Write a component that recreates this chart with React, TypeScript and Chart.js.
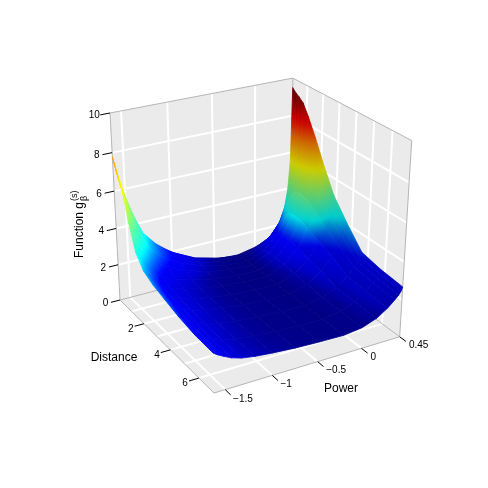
import React, { useEffect, useRef } from "react";
import { Chart, registerables } from "chart.js";

Chart.register(...registerables);

// ---- data ----
const distanceNodes = [0.05, 0.154, 0.293, 0.467, 0.745, 1.093, 1.579, 2.135, 2.83, 3.664, 4.637, 5.749, 7.0];
const powerNodes = [-1.617, -1.576, -1.514, -1.431, -1.328, -1.183, -0.997, -0.749, -0.48, -0.211, -0.005, 0.161, 0.285, 0.367, 0.409, 0.435, 0.45];
const gValues = [
  [7.8, 6.9, 5.8, 4.6, 3.45, 2.65, 1.93, 1.3, 0.93, 0.86, 1.05, 1.3, 1.85, 2.86, 4.01, 5.61, 9.5],
  [7.55, 6.68, 5.61, 4.43, 3.38, 2.59, 1.99, 1.39, 1.05, 0.87, 1.12, 1.5, 2.18, 3.22, 4.34, 5.84, 9.4],
  [7.2, 6.37, 5.36, 4.25, 3.24, 2.5, 1.93, 1.36, 1.04, 0.88, 1.19, 1.7, 2.5, 3.57, 4.65, 6.07, 9.3],
  [6.85, 6.07, 5.11, 4.06, 3.12, 2.42, 1.88, 1.34, 1.04, 0.9, 1.27, 1.89, 2.81, 3.91, 4.97, 6.3, 9.2],
  [6.3, 5.59, 4.72, 3.77, 2.91, 2.27, 1.78, 1.3, 1.02, 0.9, 1.33, 2.06, 3.09, 4.21, 5.21, 6.44, 9.0],
  [5.0, 4.46, 3.8, 3.08, 2.43, 1.94, 1.57, 1.2, 0.99, 0.9, 1.38, 2.17, 3.24, 4.33, 5.25, 6.33, 8.45],
  [3.65, 3.29, 2.85, 2.36, 1.92, 1.6, 1.35, 1.1, 0.96, 0.92, 1.38, 2.18, 3.23, 4.22, 5.02, 5.91, 7.55],
  [3.0, 2.73, 2.39, 2.02, 1.69, 1.44, 1.25, 1.06, 0.95, 0.92, 1.35, 2.1, 3.05, 3.9, 4.54, 5.23, 6.4],
  [2.7, 2.47, 2.18, 1.86, 1.58, 1.37, 1.21, 1.04, 0.95, 0.93, 1.29, 1.92, 2.71, 3.38, 3.86, 4.35, 5.1],
  [2.5, 2.29, 2.04, 1.77, 1.52, 1.33, 1.19, 1.05, 0.97, 0.94, 1.24, 1.77, 2.41, 2.94, 3.3, 3.64, 4.1],
  [2.27, 2.1, 1.88, 1.65, 1.44, 1.29, 1.17, 1.05, 0.98, 0.96, 1.14, 1.47, 1.93, 2.33, 2.56, 2.78, 3.05],
  [2.1, 1.95, 1.77, 1.57, 1.39, 1.26, 1.15, 1.05, 0.99, 0.97, 1.13, 1.43, 1.84, 2.2, 2.42, 2.62, 2.82],
  [2.05, 1.92, 1.75, 1.55, 1.39, 1.27, 1.18, 1.09, 1.03, 1.0, 1.12, 1.4, 1.78, 2.12, 2.32, 2.5, 2.69],
];
const distanceTicks = [2, 4, 6];
const distanceGrid = [1, 2, 3, 4, 5, 6];
const powerTicks = [-1.5, -1, -0.5, 0, 0.45];
const powerLabels = ["\u22121.5", "\u22121", "\u22120.5", "0", "0.45"];
const powerGrid = [-1.5, -1, -0.5, 0];
const zTicks = [0, 2, 4, 6, 8, 10];
const zGrid = [2, 4, 6, 8];
const colorZ = [0.9, 1.05, 1.15, 1.25, 1.4, 1.7, 2.05, 2.4, 3.1, 4.3, 5.5, 6.8, 7.8, 8.8, 9.2];
const colorT = [0, 0.012, 0.028, 0.052, 0.08, 0.105, 0.12, 0.2, 0.375, 0.5, 0.625, 0.75, 0.875, 0.97, 1];
const colourShift = [0, 0.03, 0.08, 0.14, 0.2, 0.3, 0.45, 0.7, 1.2, 1.2, 0.8, 0.8, 1.0];

const D0 = 0.05, D1 = 7.0, P0 = -1.617, P1 = 0.45, Z1 = 10;

// camera (homogeneous projection of the unit box)
function project(d: number, p: number, z: number) {
  const u = (d - D0) / (D1 - D0), v = (p - P0) / (P1 - P0), w = z / Z1;
  const W = -0.1224 * u + 0.0654 * v - 0.0707 * w + 1;
  return {
    x: (67.81 * u + 189.07 * v - 17.75 * w + 120) / W,
    y: (44.92 * u - 27.34 * v - 194.99 * w + 300) / W,
  };
}

function jet(t: number, shade: number) {
  const c = (x: number) => Math.round(255 * shade * Math.max(0, Math.min(1, x)));
  const r = 1.5 - Math.abs(4 * t - 3), g = 1.5 - Math.abs(4 * t - 2), b = 1.5 - Math.abs(4 * t - 1);
  return `rgb(${c(r)},${c(g)},${c(b)})`;
}
function colorFor(z: number, shade: number) {
  if (z <= colorZ[0]) return jet(0, shade);
  for (let i = 1; i < colorZ.length; i++) {
    if (z <= colorZ[i]) {
      const f = (z - colorZ[i - 1]) / (colorZ[i] - colorZ[i - 1]);
      return jet(colorT[i - 1] + f * (colorT[i] - colorT[i - 1]), shade);
    }
  }
  return jet(1, shade);
}
// value used for the colour scale
function colourValue(a: number, b: number) {
  const z = gValues[a][b];
  const v = (powerNodes[b] - P0) / (P1 - P0);
  if (v < 0.5) return z - 0.22 * Math.max(0, z - 2.4);
  const top = gValues[a][powerNodes.length - 1];
  const s = Math.max(0, Math.min(1, (z - 1) / (top - 1)));
  return z - colourShift[a] * s;
}
// the steep right-hand side is lit less
function shadeFor(b: number) {
  const v = (powerNodes[b] - P0) / (P1 - P0);
  return v <= 0.8 ? 1 : 1 - 0.2 * Math.min(1, (v - 0.8) / 0.16);
}

function quadPaint(ctx: CanvasRenderingContext2D, pts: { x: number; y: number }[], zs: number[], shade: number) {
  const cx = pts.reduce((s, q) => s + q.x, 0) / 4, cy = pts.reduce((s, q) => s + q.y, 0) / 4;
  const zc = zs.reduce((s, q) => s + q, 0) / 4;
  let sxx = 0, sxy = 0, syy = 0, sxz = 0, syz = 0;
  pts.forEach((q, i) => {
    const dx = q.x - cx, dy = q.y - cy, dz = zs[i] - zc;
    sxx += dx * dx; sxy += dx * dy; syy += dy * dy; sxz += dx * dz; syz += dy * dz;
  });
  const det = sxx * syy - sxy * sxy;
  const zmin = Math.min(...zs), zmax = Math.max(...zs);
  if (Math.abs(det) < 1e-6 || zmax - zmin < 1e-6) return colorFor(zc, shade);
  const a = (sxz * syy - syz * sxy) / det, b = (syz * sxx - sxz * sxy) / det;
  const n = a * a + b * b;
  if (n < 1e-9) return colorFor(zc, shade);
  const g = ctx.createLinearGradient(
    cx + ((zmin - zc) * a) / n, cy + ((zmin - zc) * b) / n,
    cx + ((zmax - zc) * a) / n, cy + ((zmax - zc) * b) / n,
  );
  for (let i = 0; i <= 10; i++) g.addColorStop(i / 10, colorFor(zmin + ((zmax - zmin) * i) / 10, shade));
  return g;
}

const FONT = '"Liberation Sans", Arial, sans-serif';

export default function App() {
  const ref = useRef<HTMLCanvasElement | null>(null);
  useEffect(() => {
    document.body.style.margin = "0";
    const canvas = ref.current!;
    const ctx = canvas.getContext("2d")!;
    const shape = (pts: { x: number; y: number }[], fill: any, border: any = "transparent", bw = 0) => ({
      data: pts, showLine: true, fill: "shape", backgroundColor: fill, borderColor: border, borderWidth: bw,
      pointRadius: 0, pointHoverRadius: 0, tension: 0, clip: false,
    });
    const line = (pts: { x: number; y: number }[], color: string, bw: number) => ({
      data: pts, showLine: true, fill: false, borderColor: color, borderWidth: bw, backgroundColor: color,
      pointRadius: 0, pointHoverRadius: 0, tension: 0, clip: false,
    });

    const ds: any[] = [];
    const WALL = "#EBEBEB", EDGE = "#B5B5B5";
    const wallPoly = (a: number[][]) => a.map(([d, p, z]) => project(d, p, z));
    ds.push(shape(wallPoly([[D0, P0, 0], [D0, P1, 0], [D0, P1, Z1], [D0, P0, Z1], [D0, P0, 0]]), WALL));
    ds.push(shape(wallPoly([[D0, P1, 0], [D1, P1, 0], [D1, P1, Z1], [D0, P1, Z1], [D0, P1, 0]]), WALL));
    ds.push(shape(wallPoly([[D0, P0, 0], [D1, P0, 0], [D1, P1, 0], [D0, P1, 0], [D0, P0, 0]]), WALL));
    const GRID = "#FFFFFF", GW = 2;
    powerGrid.forEach((p) => {
      ds.push(line(wallPoly([[D0, p, 0], [D0, p, Z1]]), GRID, GW));
      ds.push(line(wallPoly([[D0, p, 0], [D1, p, 0]]), GRID, GW));
    });
    distanceGrid.forEach((d) => {
      ds.push(line(wallPoly([[d, P1, 0], [d, P1, Z1]]), GRID, GW));
      ds.push(line(wallPoly([[d, P0, 0], [d, P1, 0]]), GRID, GW));
    });
    zGrid.forEach((z) => {
      ds.push(line(wallPoly([[D0, P0, z], [D0, P1, z]]), GRID, GW));
      ds.push(line(wallPoly([[D0, P1, z], [D1, P1, z]]), GRID, GW));
    });
    ds.push(line(wallPoly([[D0, P0, 0], [D0, P0, Z1], [D0, P1, Z1], [D1, P1, Z1], [D1, P1, 0]]), EDGE, 1));
    ds.push(line(wallPoly([[D0, P0, 0], [D1, P0, 0], [D1, P1, 0], [D0, P1, 0], [D0, P0, 0]]), EDGE, 1));
    ds.push(line(wallPoly([[D0, P1, 0], [D0, P1, Z1]]), EDGE, 1));

    // surface, far to near
    for (let i = 0; i < distanceNodes.length - 1; i++) {
      for (let j = powerNodes.length - 2; j >= 0; j--) {
        const corners: [number, number][] = [[i, j], [i + 1, j], [i + 1, j + 1], [i, j + 1]];
        const pts = corners.map(([a, b]) => project(distanceNodes[a], powerNodes[b], gValues[a][b]));
        const cv = corners.map(([a, b]) => colourValue(a, b));
        const paint = quadPaint(ctx, pts, cv, (shadeFor(j) + shadeFor(j + 1)) / 2);
        ds.push(shape([...pts, pts[0]], paint, paint, 0.8));
      }
    }
    const DV = 0.05 * (P1 - P0), DU = 0.05 * (D1 - D0);
    zTicks.forEach((z) => ds.push(line(wallPoly([[D0, P0, z], [D0, P0 - DV, z]]), "#000", 1)));
    distanceTicks.forEach((d) => ds.push(line(wallPoly([[d, P0, 0], [d, P0 - DV, 0]]), "#000", 1)));
    powerTicks.forEach((p) => ds.push(line(wallPoly([[D1, p, 0], [D1 + DU, p, 0]]), "#000", 1)));

    const labels = {
      id: "labels3d",
      afterDraw(chart: any) {
        const c = chart.ctx;
        const sx = chart.scales.x, sy = chart.scales.y;
        const px = (q: { x: number; y: number }) => [sx.getPixelForValue(q.x), sy.getPixelForValue(q.y)];
        c.save();
        c.fillStyle = "#000";
        c.textBaseline = "middle";
        c.font = `10px ${FONT}`;
        c.textAlign = "center";
        zTicks.forEach((z) => {
          const [x, y] = px(project(D0, P0 - 0.085 * (P1 - P0), z));
          c.fillText(String(z), x + 1, y - 0.5);
        });
        distanceTicks.forEach((d) => {
          const [x, y] = px(project(d, P0 - 0.07 * (P1 - P0), 0));
          c.fillText(String(d), x, y + 1.5);
        });
        c.textAlign = "left";
        powerTicks.forEach((p, i) => {
          const [x, y] = px(project(D1 + 0.09 * (D1 - D0), p, 0));
          c.fillText(powerLabels[i], x - 2, y);
        });
        c.font = `12px ${FONT}`;
        c.textAlign = "center";
        c.fillText("Distance", 114, 358);
        c.fillText("Power", 341, 389);
        c.translate(79, 258);
        c.rotate(-Math.PI / 2);
        c.textAlign = "left";
        c.textBaseline = "alphabetic";
        c.fillText("Function g", 0, 4);
        const w = c.measureText("Function g").width;
        c.font = `9px ${FONT}`;
        c.fillText("\u03B2", w + 1, 8);
        c.fillText("(s)", w + 1, -2);
        c.restore();
      },
    };

    const chart = new Chart(canvas, {
      type: "scatter",
      data: { datasets: ds.reverse() },
      options: {
        animation: false,
        responsive: false,
        events: [],
        layout: { padding: 0 },
        plugins: { legend: { display: false }, tooltip: { enabled: false }, title: { display: false } },
        scales: {
          x: { type: "linear", min: 0, max: 488, display: false },
          y: { type: "linear", min: 0, max: 488, reverse: true, display: false },
        },
      },
      plugins: [labels],
    } as any);
    return () => chart.destroy();
  }, []);
  return <canvas ref={ref} width={488} height={488} style={{ display: "block" }} />;
}
